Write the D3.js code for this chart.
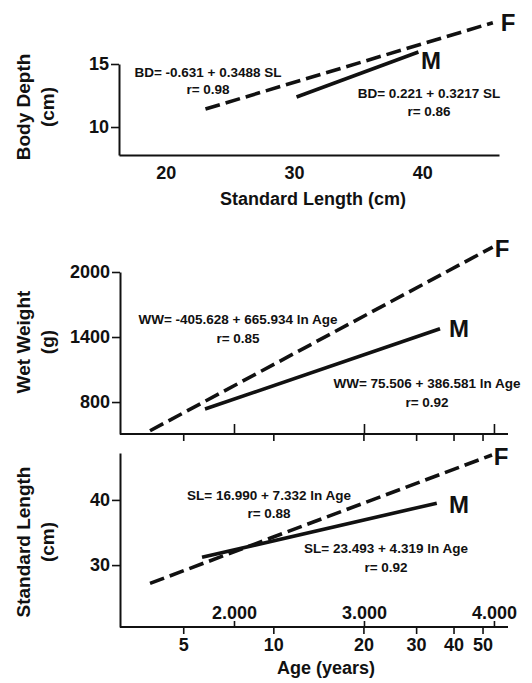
<!DOCTYPE html>
<html><head><meta charset="utf-8">
<script src="https://cdn.jsdelivr.net/npm/d3@7"></script>
<style>
body{margin:0;background:#fff;}
svg text{font-family:"Liberation Sans",Arial,sans-serif;font-weight:bold;fill:#111;}
</style>
</head><body>
<svg id="c" width="532" height="683"></svg>
<script>
// ---- data ----
// Panel 1: Body depth vs Standard length
const bdSL_F = [23.1, 45.5];
const bdBD_F = [11.43, 18.28];
const bdSL_M = [30.2, 39.7];
const bdBD_M = [12.38, 15.95];
const bdXTicks = [20, 30, 40];
const bdYTicks = [10, 15];
// Panel 2: Wet weight vs ln Age
const wwLnAge_F = [1.354, 3.99];
const wwWW_F = [535, 2230];
const wwLnAge_M = [1.777, 3.585];
const wwWW_M = [735, 1477];
const wwYTicks = [800, 1400, 2000];
// Panel 3: Standard length vs ln Age
const slLnAge_F = [1.354, 3.985];
const slSL_F = [27.2, 46.9];
const slLnAge_M = [1.754, 3.56];
const slSL_M = [31.2, 39.5];
const slYTicks = [30, 40];
// age axis ticks
const lnTicks = [2, 3, 4];
const lnTickLabels = ["2.000", "3.000", "4.000"];
const ageTicks = [5, 10, 20, 30, 40, 50];

const svg = d3.select("#c");
const col = "#111";
const eqSize = 13.5;

function styleTicks(a, size) {
  a.selectAll(".tick line").attr("stroke", col).attr("stroke-width", 1.6);
  a.selectAll(".tick text").attr("font-size", size || 18)
    .style("font-family", '"Liberation Sans",Arial,sans-serif').style("font-weight", "bold").attr("fill", col);
}
function yAxisDraw(g, y, ticks, x0) {
  const ax = d3.axisLeft(y).tickValues(ticks).tickSize(8).tickSizeOuter(0).tickPadding(2).tickFormat(d3.format("d"));
  const gg = g.append("g").attr("transform", `translate(${x0},0)`).call(ax);
  gg.select(".domain").attr("stroke", col).attr("stroke-width", 2);
  styleTicks(gg);
  return gg;
}
function line(g, xs, ys, x, y, dashed) {
  const pts = xs.map((v, i) => [x(v), y(ys[i])]);
  g.append("path").attr("d", d3.line()(pts)).attr("fill", "none").attr("stroke", col)
    .attr("stroke-width", 3.6).attr("stroke-dasharray", dashed ? "15,6" : null);
}
function txt(g, x, y, s, size) {
  return g.append("text").attr("x", x).attr("y", y).attr("font-size", size)
    .attr("text-anchor", "middle").attr("dominant-baseline", "central").text(s);
}
function ytitle(g, cx, cy, lines) {
  lines.forEach((s, i) => {
    g.append("text").attr("transform", `translate(${cx + i * 24},${cy}) rotate(-90)`)
      .attr("text-anchor", "middle").attr("dominant-baseline", "central").attr("font-size", 19).text(s);
  });
}

// ===== Panel 1 =====
{
  const g = svg.append("g");
  const x = d3.scaleLinear().domain([16.36, 45.98]).range([119, 499]);
  const y = d3.scaleLinear().domain([7.78, 15]).range([155, 64]);
  yAxisDraw(g, y, bdYTicks, 119);
  const xa = d3.axisBottom(x).tickValues(bdXTicks).tickSize(0).tickSizeOuter(0).tickPadding(11);
  const gx = g.append("g").attr("transform", "translate(0,155)").call(xa);
  gx.select(".domain").attr("stroke", col).attr("stroke-width", 2);
  styleTicks(gx);
  line(g, bdSL_F, bdBD_F, x, y, true);
  line(g, bdSL_M, bdBD_M, x, y, false);
  txt(g, 508, 22, "F", 24);
  txt(g, 431, 60, "M", 24);
  txt(g, 208, 72, "BD= -0.631 + 0.3488 SL", eqSize);
  txt(g, 208, 89, "r= 0.98", eqSize);
  txt(g, 429, 93, "BD= 0.221 + 0.3217 SL", eqSize);
  txt(g, 429, 111, "r= 0.86", eqSize);
  txt(g, 313, 199, "Standard Length (cm)", 18);
  ytitle(g, 23, 107, ["Body Depth", "(cm)"]);
}

function ageAxis(g, x, yPos, labels, upSize) {
  g.append("line").attr("x1", x.range()[0]).attr("x2", x.range()[1]).attr("y1", yPos).attr("y2", yPos)
    .attr("stroke", col).attr("stroke-width", 2);
  const up = d3.axisTop(x).tickValues(lnTicks).tickSize(upSize).tickSizeOuter(0)
    .tickFormat((d, i) => labels ? lnTickLabels[i] : "").tickPadding(2);
  const gu = g.append("g").attr("transform", `translate(0,${yPos})`).call(up);
  gu.select(".domain").remove();
  const dn = d3.axisBottom(x).tickValues(ageTicks.map(Math.log)).tickSize(7).tickSizeOuter(0)
    .tickFormat((d, i) => labels ? ageTicks[i] : "").tickPadding(4);
  const gd = g.append("g").attr("transform", `translate(0,${yPos})`).call(dn);
  gd.select(".domain").remove();
  styleTicks(gu); styleTicks(gd);
}

// ===== Panel 2 =====
{
  const g = svg.append("g");
  const x = d3.scaleLinear().domain([1.123, 4.108]).range([120, 508]);
  const y = d3.scaleLinear().domain([505, 2000]).range([434, 272]);
  yAxisDraw(g, y, wwYTicks, 120);
  ageAxis(g, x, 434, false, 10);
  line(g, wwLnAge_F, wwWW_F, x, y, true);
  line(g, wwLnAge_M, wwWW_M, x, y, false);
  txt(g, 502, 248, "F", 24);
  txt(g, 459, 328, "M", 24);
  txt(g, 238, 319, "WW= -405.628 + 665.934 ln Age", eqSize);
  txt(g, 238, 338, "r= 0.85", eqSize);
  txt(g, 427, 383, "WW= 75.506 + 386.581 ln Age", eqSize);
  txt(g, 427, 402, "r= 0.92", eqSize);
  ytitle(g, 23, 342, ["Wet Weight", "(g)"]);
}

// ===== Panel 3 =====
{
  const g = svg.append("g");
  const x = d3.scaleLinear().domain([1.123, 4.108]).range([120, 508]);
  const y = d3.scaleLinear().domain([20.5, 47.2]).range([627, 453]);
  yAxisDraw(g, y, slYTicks, 120);
  ageAxis(g, x, 627, true, 6);
  line(g, slLnAge_F, slSL_F, x, y, true);
  line(g, slLnAge_M, slSL_M, x, y, false);
  txt(g, 501, 456, "F", 24);
  txt(g, 459, 504, "M", 24);
  txt(g, 269, 495, "SL= 16.990 + 7.332 ln Age", eqSize);
  txt(g, 269, 513, "r= 0.88", eqSize);
  txt(g, 386, 548, "SL= 23.493 + 4.319 ln Age", eqSize);
  txt(g, 386, 567, "r= 0.92", eqSize);
  txt(g, 326, 668, "Age (years)", 18);
  ytitle(g, 23, 542, ["Standard Length", "(cm)"]);
}
</script>
</body></html>
